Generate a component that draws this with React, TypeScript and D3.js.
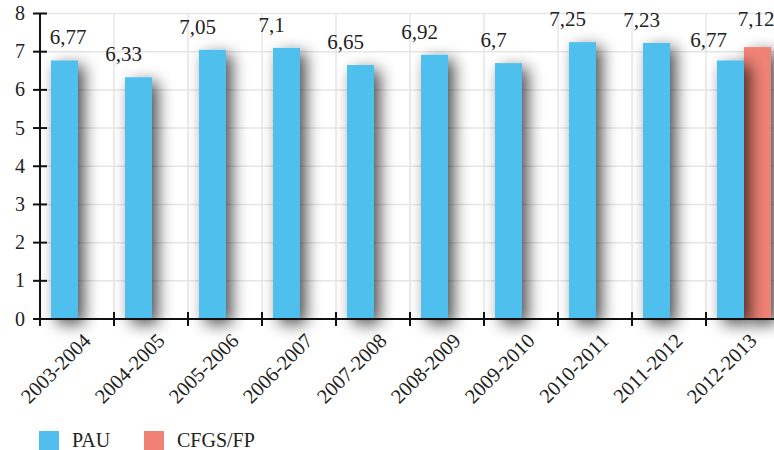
import React from "react";
import * as d3 from "d3";

const categories = [
  "2003-2004", "2004-2005", "2005-2006", "2006-2007", "2007-2008",
  "2008-2009", "2009-2010", "2010-2011", "2011-2012", "2012-2013",
];
const seriesNames = ["PAU", "CFGS/FP"];
const pauValues: (number | null)[] = [6.77, 6.33, 7.05, 7.1, 6.65, 6.92, 6.7, 7.25, 7.23, 6.77];
const cfgsValues: (number | null)[] = [null, null, null, null, null, null, null, null, null, 7.12];
const yTicks = [0, 1, 2, 3, 4, 5, 6, 7, 8];
const colors = ["#50bfee", "#f08275"];

const W = 774;
const H = 450;
const FONT = "'Liberation Serif', 'DejaVu Serif', serif";

export default function App() {
  const x0 = d3.scaleBand<string>().domain(categories).range([40, 780]).padding(0);
  const x1 = d3.scaleBand<string>().domain(seriesNames).range([11, 65]).padding(0);
  const y = d3.scaleLinear().domain([0, 8]).range([319, 13.5]);
  const allSeries = [pauValues, cfgsValues];
  const fmt = (v: number) => String(v).replace(".", ",");

  const labels: { x: number; y: number; t: string }[] = [];
  categories.forEach((c, i) => {
    const present = allSeries.filter((s) => s[i] != null).length;
    allSeries.forEach((s, si) => {
      const v = s[i];
      if (v == null) return;
      const bx = (x0(c) as number) + (x1(seriesNames[si]) as number) + x1.bandwidth() / 2;
      const t = fmt(v);
      const w = t.length * 9;
      let lx = si === 0 ? bx - 15 : bx;
      let ly = y(v) - 16;
      if (present > 1) {
        if (si === 0) { lx -= 7; ly += 3; } else { lx -= 1.5; ly -= 5; }
      }
      lx = Math.max(lx, 50 + w / 2);
      labels.push({ x: lx, y: ly, t });
    });
  });

  return (
    <svg width={W} height={H} style={{ position: "absolute", left: 0, top: 0, background: "#fff" }} fontFamily={FONT}>
      <defs>
        <filter id="shadow" filterUnits="userSpaceOnUse" x="0" y="0" width="800" height="450">
          <feGaussianBlur in="SourceAlpha" stdDeviation="8" result="blur" />
          <feOffset in="blur" dx="6" dy="5" result="off" />
          <feComponentTransfer in="off" result="shade">
            <feFuncA type="linear" slope="0.7" />
          </feComponentTransfer>
          <feMerge>
            <feMergeNode in="shade" />
            <feMergeNode in="SourceGraphic" />
          </feMerge>
        </filter>
      </defs>
      {yTicks.map((t) => (
        <line key={"h" + t} x1={40} x2={780} y1={y(t)} y2={y(t)} stroke="#e6e6e6" strokeWidth={1.5} />
      ))}
      {categories.map((c) => (
        <line key={"v" + c} x1={x0(c) as number} x2={x0(c) as number} y1={y(8)} y2={y(0)} stroke="#e6e6e6" strokeWidth={1.5} />
      ))}
      {[1, 0].map((si) =>
        categories.map((c, i) => {
          const v = allSeries[si][i];
          if (v == null) return null;
          return (
            <rect
              key={si + c}
              x={(x0(c) as number) + (x1(seriesNames[si]) as number)}
              y={y(v)}
              width={x1.bandwidth()}
              height={y(0) - y(v)}
              fill={colors[si]}
              filter="url(#shadow)"
            />
          );
        })
      )}
      <line x1={40} x2={780} y1={y(0)} y2={y(0)} stroke="#111" strokeWidth={2} />
      <line x1={40} x2={40} y1={y(8)} y2={y(0) + 1} stroke="#111" strokeWidth={2} />
      {yTicks.map((t) => (
        <g key={"yt" + t}>
          <line x1={33} x2={47} y1={y(t)} y2={y(t)} stroke="#111" strokeWidth={2} />
          <text x={25} y={y(t) + 6.5} textAnchor="end" fontSize={20} fill="#222">{t}</text>
        </g>
      ))}
      {categories.map((c) => (
        <line key={"xt" + c} x1={x0(c) as number} x2={x0(c) as number} y1={y(0) - 7} y2={y(0) + 7} stroke="#111" strokeWidth={2} />
      ))}
      {categories.map((c) => {
        const cx = (x0(c) as number) + x0.bandwidth() / 2;
        return (
          <text key={"xl" + c} transform={`translate(${cx + 15},${y(0) + 23}) rotate(-45)`} textAnchor="end" fontSize={20.5} fill="#222">
            {c}
          </text>
        );
      })}
      {labels.map((l, i) => (
        <text key={"lb" + i} x={l.x} y={l.y} textAnchor="middle" fontSize={21} fill="#222">{l.t}</text>
      ))}
      {seriesNames.map((s, i) => {
        const lx = i === 0 ? 39 : 144;
        return (
          <g key={"lg" + s}>
            <rect x={lx} y={431} width={20} height={19} fill={colors[i]} />
            <text x={lx + 33} y={447} fontSize={20} fill="#222">{s}</text>
          </g>
        );
      })}
    </svg>
  );
}
